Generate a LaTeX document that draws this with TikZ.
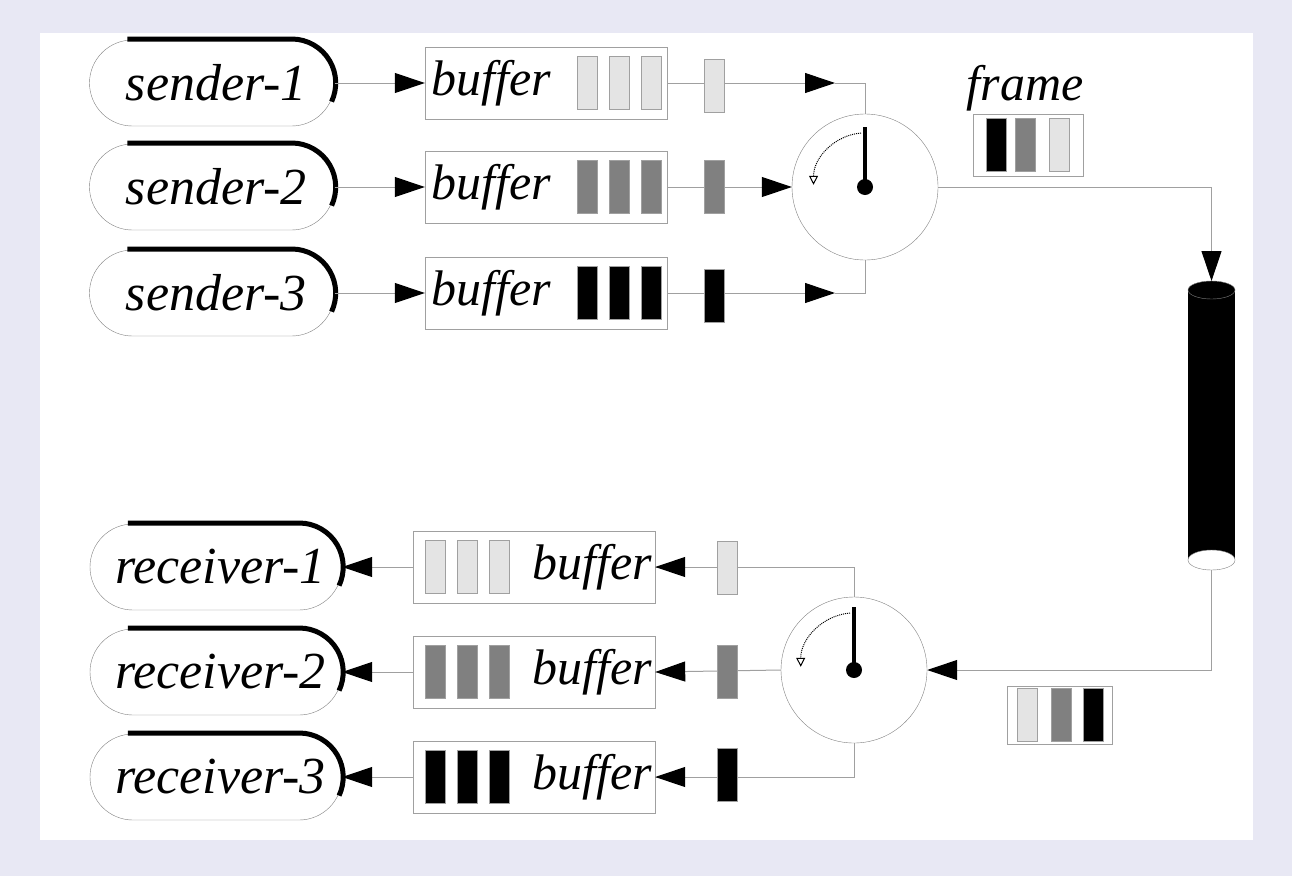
\documentclass[tikz,border=0pt]{standalone}
\usepackage{fontspec}
\setmainfont{Liberation Serif}
\usetikzlibrary{shapes.misc,arrows.meta,calc}
\definecolor{bgc}{HTML}{E8E8F4}
\definecolor{ln}{HTML}{A0A0A0}
\definecolor{lg}{HTML}{E4E4E4}
\definecolor{mg}{HTML}{808080}
\begin{document}
\begin{tikzpicture}[x=1pt,y=-1pt,
  capsule/.style={rounded rectangle,draw=mg,minimum width=245pt,minimum height=86pt,font=\itshape\fontsize{52}{52}\selectfont,inner sep=0pt},
  buf/.style={draw=ln,minimum width=242pt,minimum height=72pt,inner sep=0pt},
  lbl/.style={font=\itshape\fontsize{50}{50}\selectfont,inner sep=0pt},
  bar/.style={draw=ln,minimum width=20pt,minimum height=53pt,inner sep=0pt},
  con/.style={draw=ln,line width=1pt},
  tip/.style={-{Triangle[length=30pt,width=20pt,color=black]}},
  wheel/.style={circle,draw=mg,minimum size=146pt,inner sep=0pt},
  hand/.style={line width=3.5pt},
  turn/.style={densely dotted,line width=1pt,-{Triangle[length=9pt,width=9pt,open]}}]
\useasboundingbox (0,0) rectangle (1292,876);
\fill[bgc] (0,0) rectangle (1292,876);
\fill[white] (40,33) rectangle (1253,840);
% thick shadow arc
\newcommand{\capshadow}[1]{\draw[line width=5pt] ($(#1.west)+(38,-44)$) -- ($(#1.east)+(-43,-44)$) arc[start angle=-90,end angle=25,radius=44];}
% senders
\foreach \i/\y in {1/83,2/187,3/293}{
  \node[capsule] (s\i) at (212,\y) {\,sender-\i};
  \capshadow{s\i}
  \node[buf] (b\i) at (546,\y) {};
  \node[lbl,anchor=west] (bl\i) at (431,\y) {buffer};
}
\foreach \x in {587,619,651}{
  \node[bar,fill=lg] at (\x,83) {};
  \node[bar,fill=mg] at (\x,187) {};
  \node[bar,fill=black] at (\x,293) {};
}
\node[wheel] (c1) at (865,187) {};
\foreach \i in {1,2,3}{\draw[con,tip] (s\i.east) -- (b\i.west);}
\coordinate (t1) at (835,83); \coordinate (t3) at (835,293);
\draw[con,tip] (b1.east) -- (t1);
\draw[con] (t1) -| (c1.north);
\draw[con,tip] (b2.east) -- (c1.west);
\draw[con,tip] (b3.east) -- (t3);
\draw[con] (t3) -| (c1.south);
\node[bar,fill=lg] (p1) at (714,86) {};
\node[bar,fill=mg] (p2) at (714,187) {};
\node[bar,fill=black] (p3) at (714,296) {};
% clock hand
\draw[hand] (c1.center) -- ++(0,-60);
\fill (c1.center) circle (8);
\draw[turn] ($(c1.center)+(-4,-54)$) arc[start angle=-95,end angle=-180,radius=52];
% frame
\node[lbl] (fl) at (1025,88) {frame};
\node[draw=ln,minimum width=110pt,minimum height=62pt] (f1) at (1028,145) {};
\node[bar,fill=black] at (996,145) {};
\node[bar,fill=mg] at (1025,145) {};
\node[bar,fill=lg] at (1059,145) {};
% cylinder
\fill (1188,290) rectangle (1235,560);
\draw[fill=black,draw=mg] (1211.5,290) ellipse (23.5 and 9);
\draw[fill=white,draw=mg] (1211.5,560) ellipse (23.5 and 10);
\coordinate (cyt) at (1211.5,281);
\coordinate (cyb) at (1211.5,570);
\draw[con,tip] (c1.east) -| (cyt);
% receivers
\node[wheel] (c2) at (854,670) {};
\foreach \i/\y in {1/567,2/672,3/777}{
  \node[capsule,minimum width=252pt] (r\i) at (216,\y) {\,receiver-\i};
  \capshadow{r\i}
  \node[buf] (rb\i) at (534,\y) {};
  \node[lbl,anchor=east] at (652,\y) {buffer};
  \draw[con,tip] (rb\i.west) -- (r\i.east);
}
\foreach \x in {435,467,499}{
  \node[bar,fill=lg] at (\x,567) {};
  \node[bar,fill=mg] at (\x,672) {};
  \node[bar,fill=black] at (\x,777) {};
}
\coordinate (q1) at (854,567); \coordinate (q3) at (854,777);
\draw[con] (c2.north) |- (q1) -- (rb1.east);
\draw[con,tip] ($(rb1.east)+(40,0)$) -- (rb1.east);
\draw[con,tip] (c2.west) -- (rb2.east);
\draw[con] (c2.south) |- (q3) -- (rb3.east);
\draw[con,tip] ($(rb3.east)+(40,0)$) -- (rb3.east);
\node[bar,fill=lg] at (727,568) {};
\node[bar,fill=mg] at (727,672) {};
\node[bar,fill=black] at (727,775) {};
\draw[hand] (c2.center) -- ++(0,-63);
\fill (c2.center) circle (8);
\draw[turn] ($(c2.center)+(-4,-57)$) arc[start angle=-95,end angle=-180,radius=54];
\draw[con,tip] (cyb) |- (c2.east);
\node[draw=ln,minimum width=105pt,minimum height=58pt] (f2) at (1060,715) {};
\node[bar,fill=lg] at (1027,715) {};
\node[bar,fill=mg] at (1061,715) {};
\node[bar,fill=black] at (1093,715) {};
\end{tikzpicture}
\end{document}
